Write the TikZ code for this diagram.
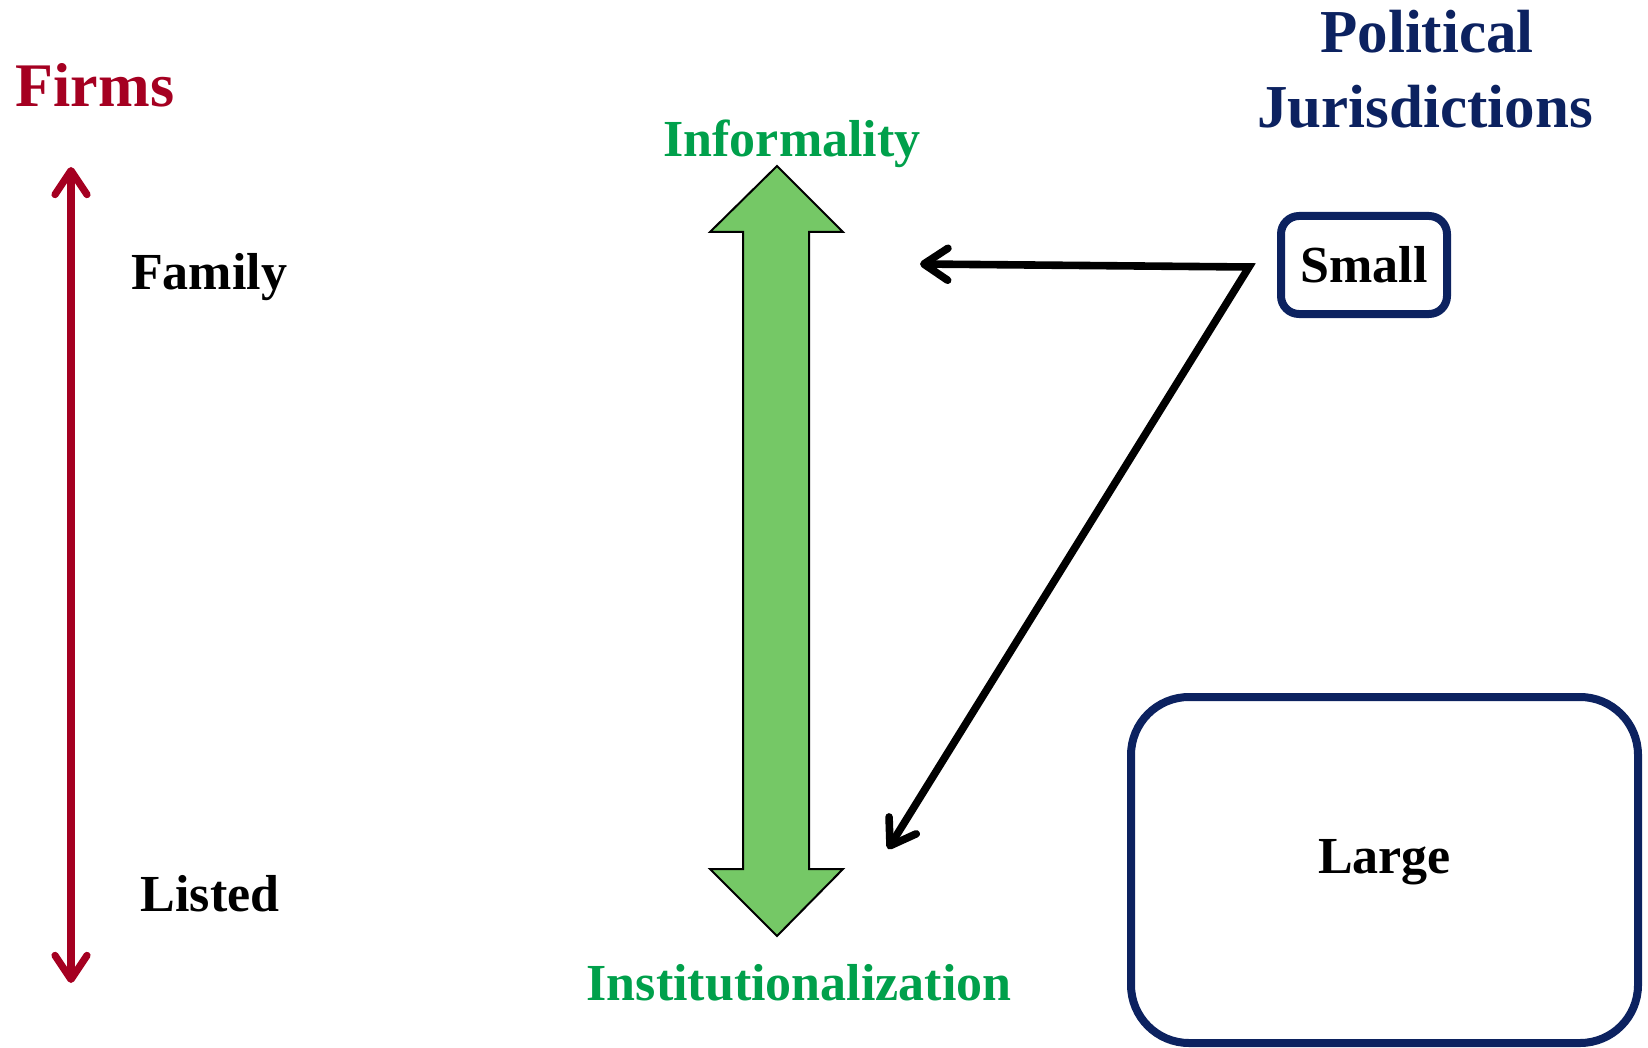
\documentclass[tikz,border=0pt]{standalone}
\usepackage{fontspec}
\setmainfont{Liberation Serif}
\usetikzlibrary{arrows.meta}
\definecolor{firmred}{RGB}{165,0,33}
\definecolor{navy}{RGB}{12,34,96}
\definecolor{grtext}{RGB}{0,160,75}
\definecolor{grfill}{RGB}{117,200,102}
\tikzset{
  txt/.style={anchor=base, inner sep=0pt, font=\bfseries\fontsize{26}{30}\selectfont},
  bigtxt/.style={anchor=base, inner sep=0pt, font=\bfseries\fontsize{31}{36}\selectfont},
  jurbox/.style={draw=navy, line width=4pt, inner sep=0pt, font=\bfseries\fontsize{26}{30}\selectfont},
  redarrow/.style={draw=firmred, line width=3.6pt,
    {Straight Barb[length=12pt,width=16pt,round]}-{Straight Barb[length=12pt,width=16pt,round]}},
  blackarrow/.style={draw=black, line width=3.8pt,
    {Straight Barb[length=12pt,width=16pt,round]}-{Straight Barb[length=12pt,width=16pt,round]}},
}
\begin{document}
\begin{tikzpicture}[x=0.5pt,y=-0.5pt]
\useasboundingbox (0,0) rectangle (1648,1048);
% titles
\node[bigtxt, text=firmred] (firms) at (95,107) {Firms};
\node[bigtxt, font=\bfseries\fontsize{30.5}{36}\selectfont, text=navy] (political) at (1427,53) {Political};
\node[bigtxt, font=\bfseries\fontsize{30.5}{36}\selectfont, text=navy] (jurisd) at (1425,128) {Jurisdictions};
% firm labels
\node[txt] (family) at (209,290) {Family};
\node[txt] (listed) at (210,911) {Listed};
% red double arrow
\coordinate (rtop) at (71,167);
\coordinate (rbot) at (71,983);
\draw[redarrow] (rtop) -- (rbot);
% green arrow
\coordinate (gtip) at (777,166);
\coordinate (gbot) at (777,936);
\draw[fill=grfill, draw=black, line width=1pt, line join=miter]
  (gtip) -- (843,232) -- (809,232) -- (809,869) -- (843,869) -- (gbot)
  -- (710,869) -- (743,869) -- (743,232) -- (710,232) -- cycle;
\node[txt, text=grtext] (informality) at (792,157) {Informality};
\node[txt, text=grtext] (institution) at (799,1000) {Institutionalization};
% jurisdiction boxes
\node[jurbox, rounded corners=9pt, minimum width=83pt, minimum height=49pt] (small) at (1364,265) {Small};
\node[jurbox, rounded corners=29pt, minimum width=253.5pt, minimum height=173pt,
  text height=10pt, text depth=7pt] (large) at (1384.5,870) {Large};
% black arrows
\coordinate (corner) at (1249,267);
\coordinate (tipA) at (920,264);
\coordinate (tipB) at (888,849);
\draw[blackarrow, line join=miter] (tipA) -- (corner) -- (tipB);
\end{tikzpicture}
\end{document}
